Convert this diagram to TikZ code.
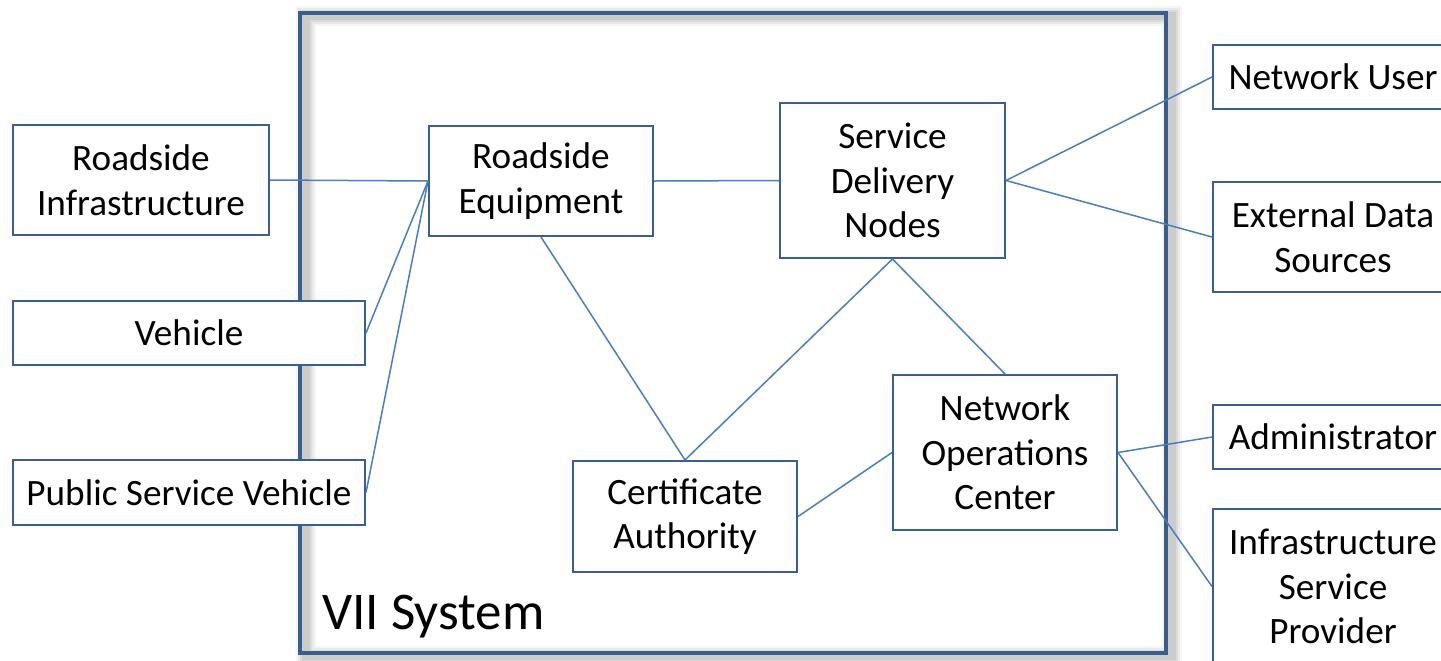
\documentclass[tikz,border=0pt]{standalone}
\usepackage{fontspec}
\setmainfont{Carlito}
\definecolor{boxblue}{HTML}{3A5F8F}
\definecolor{lineblue}{HTML}{4A7EBB}
\definecolor{frameblue}{HTML}{3A5E8C}
\begin{document}
\begin{tikzpicture}[x=0.5pt,y=-0.5pt,
  box/.style={draw=boxblue, line width=1pt, fill=white, align=center, inner sep=0pt,
    font=\fontsize{18.6}{22.3}\selectfont, text=black},
  link/.style={draw=lineblue, line width=0.75pt},
  frameshadow/.style={draw=black, line join=miter},
  systext/.style={anchor=base west, inner sep=0pt, font=\fontsize{26.5}{30}\selectfont}]
\useasboundingbox (0,0) rectangle (1441,660);
\clip (0,0) rectangle (1441,660);
% system frame with soft shadow
\foreach \w/\o in {10/0.04,8/0.05,6/0.06,4/0.07}{
  \draw[frameshadow, line width=\w pt, opacity=\o] (306,16) rectangle (1172,656);
}
\draw[draw=frameblue, line width=2pt] (300,13) rectangle (1166,653);
\node[systext, text=black] (sys) at (322,629) {VII System};
% nodes
\node[box, minimum width=128pt, minimum height=55pt] (ri) at (141,180) {Roadside\\Infrastructure};
\node[box, minimum width=176pt, minimum height=32pt] (veh) at (189,333) {Vehicle};
\node[box, minimum width=176pt, minimum height=32.5pt] (psv) at (189,492.5) {Public Service Vehicle};
\node[box, minimum width=112pt, minimum height=55pt] (re) at (541,181) {Roadside\\Equipment};
\node[box, minimum width=112.5pt, minimum height=77.5pt] (sdn) at (892.5,180.5) {Service\\Delivery\\Nodes};
\node[box, minimum width=112pt, minimum height=55.5pt] (ca) at (685,516.5) {Certificate\\Authority};
\node[box, minimum width=112pt, minimum height=77.5pt] (noc) at (1005,452.5) {Network\\Operations\\Center};
\node[box, minimum width=120pt, minimum height=32pt] (nu) at (1333,77) {Network User};
\node[box, minimum width=120pt, minimum height=55pt] (eds) at (1333,237) {External Data\\Sources};
\node[box, minimum width=120pt, minimum height=32pt] (adm) at (1333,437) {Administrator};
\node[box, minimum width=120pt, minimum height=77.5pt] (isp) at (1333,586.5) {Infrastructure\\Service\\Provider};
% connectors
\draw[link] (ri.east) -- (re.west);
\draw[link] (veh.east) -- (re.west);
\draw[link] (psv.east) -- (re.west);
\draw[link] (re.east) -- (sdn.west);
\draw[link] (re.south) -- (ca.north);
\draw[link] (sdn.south) -- (ca.north);
\draw[link] (sdn.south) -- (noc.north);
\draw[link] (ca.east) -- (noc.west);
\draw[link] (sdn.east) -- (nu.west);
\draw[link] (sdn.east) -- (eds.west);
\draw[link] (noc.east) -- (adm.west);
\draw[link] (noc.east) -- (isp.west);
\end{tikzpicture}
\end{document}
